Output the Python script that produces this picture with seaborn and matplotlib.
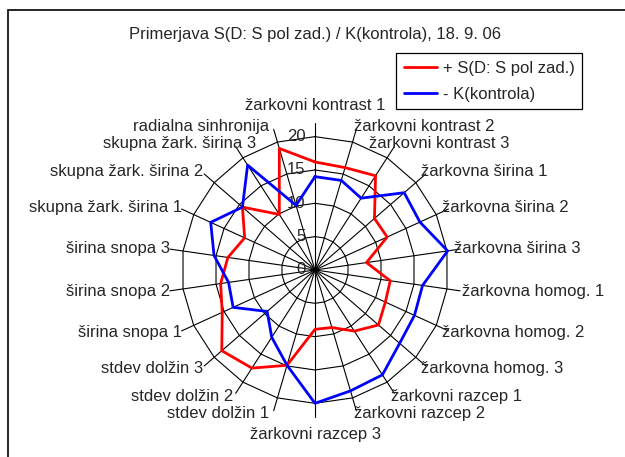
import numpy as np
import pandas as pd
import matplotlib
matplotlib.use("Agg")
import matplotlib.pyplot as plt
import matplotlib.patches as patches
import seaborn as sns

# ================== Data ==================
categories = [
    "žarkovni kontrast 1", "žarkovni kontrast 2", "žarkovni kontrast 3",
    "žarkovna širina 1", "žarkovna širina 2", "žarkovna širina 3",
    "žarkovna homog. 1", "žarkovna homog. 2", "žarkovna homog. 3",
    "žarkovni razcep 1", "žarkovni razcep 2", "žarkovni razcep 3",
    "stdev dolžin 1", "stdev dolžin 2", "stdev dolžin 3",
    "širina snopa 1", "širina snopa 2", "širina snopa 3",
    "skupna žark. širina 1", "skupna žark. širina 2", "skupna žark. širina 3",
    "radialna sinhronija",
]
s_values = [16.2, 16.0, 16.8, 11.8, 11.9, 7.8, 11.4, 11.6, 12.6, 10.9, 9.0,
            8.9, 14.9, 17.5, 18.5, 15.3, 14.3, 13.2, 11.6, 14.4, 9.9, 19.0]
k_values = [14.0, 14.0, 12.8, 17.7, 17.3, 20.1, 16.3, 16.4, 16.8, 18.7, 18.9,
            20.0, 14.9, 12.0, 9.5, 13.5, 13.1, 15.3, 17.2, 14.4, 18.7, 10.1]
s_label = "+ S(D: S pol zad.)"
k_label = "- K(kontrola)"
r_ticks = [0, 5, 10, 15, 20]
title = "Primerjava S(D: S pol zad.) / K(kontrola), 18. 9. 06"

# ================== Style ==================
sns.set_theme(style="white")
plt.rcParams['font.family'] = ['Liberation Sans', 'DejaVu Sans']
FS = 12

n = len(categories)
angles = np.linspace(0, 2 * np.pi, n, endpoint=False)
closed = np.append(angles, angles[0] + 2 * np.pi)

fig = plt.figure(figsize=(6.25, 4.57), dpi=100)
ax = fig.add_axes([0.264, 0.081, 0.48, 0.6565], projection='polar')
ax.set_theta_offset(np.pi / 2)
ax.set_theta_direction(-1)
ax.set_ylim(0, 22.5)
ax.grid(False)
ax.set_xticks([])
ax.set_yticks([])
ax.spines['polar'].set_visible(False)
ax.patch.set_alpha(0)

# polygon gridlines and spokes
for r in r_ticks[1:]:
    ax.plot(closed, [r] * len(closed), color='black', lw=0.8, zorder=1)
for a in angles:
    ax.plot([a, a], [0, 22], color='black', lw=0.8, zorder=1)

# radial tick labels
for r in r_ticks:
    ax.annotate(str(r), xy=(0, r), xytext=(-7, 0), textcoords='offset points',
                ha='right', va='center', fontsize=FS, annotation_clip=False)

# ================== Series ==================
df = pd.DataFrame({
    "theta": np.concatenate([closed, closed]),
    "value": s_values + s_values[:1] + k_values + k_values[:1],
    "series": [s_label] * (n + 1) + [k_label] * (n + 1),
})
sns.lineplot(data=df, x="theta", y="value", hue="series", sort=False,
             palette={s_label: "#ff0000", k_label: "#0000ff"},
             lw=2, ax=ax, zorder=3, estimator=None)

# ================== Category labels ==================
nudge = {2: -22, 6: 8, 20: 23}
for i, (a, lab) in enumerate(zip(angles, categories)):
    s, c = np.sin(a), np.cos(a)
    if abs(s) < 0.1:
        ha, r, dx, dy = 'center', 24.7, 0, 0
    elif s > 0:
        ha, r, dx, dy = 'left', 21, 0, 10 * c
    else:
        ha, r, dx, dy = 'right', 21, -6, 10 * c
    dx += nudge.get(i, 0)
    ax.annotate(lab, xy=(a, r), xytext=(dx * 0.72, dy * 0.72),
                textcoords='offset points', ha=ha, va='center',
                fontsize=FS, annotation_clip=False)

# ================== Legend / title / frame ==================
leg = ax.legend(loc='upper left', bbox_to_anchor=(396 / 625, 1 - 53 / 457),
                bbox_transform=fig.transFigure, frameon=True, fancybox=False,
                edgecolor='black', framealpha=1, fontsize=FS, borderpad=0.45,
                handlelength=2.0, handletextpad=0.35, labelspacing=0.68,
                borderaxespad=0)
leg.get_frame().set_linewidth(0.9)
for h in leg.get_lines():
    h.set_linewidth(2)

fig.text(315 / 625, 1 - 35 / 457, title, ha='center', va='center', fontsize=FS)

fig.patches.append(patches.Rectangle((8 / 625, -0.5), 2, 1.5 - 10 / 457,
                                     transform=fig.transFigure, fill=False,
                                     edgecolor='black', lw=1.2))

fig.savefig("out.png", dpi=100)
